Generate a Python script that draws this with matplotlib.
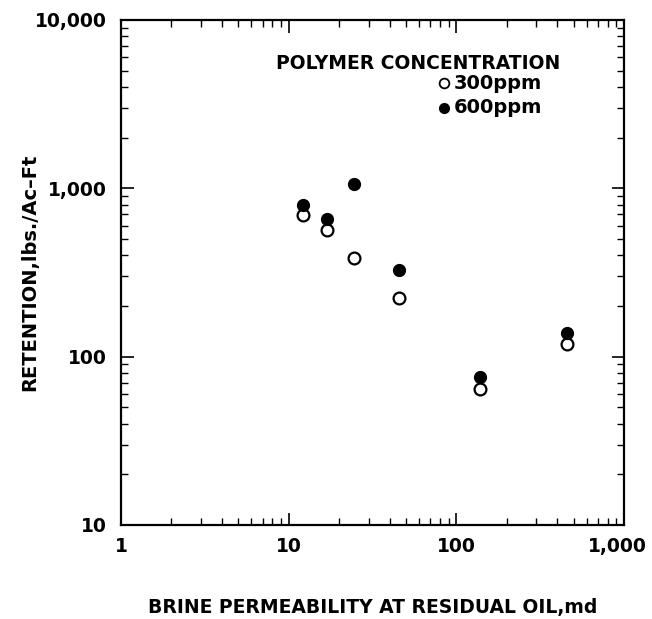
import matplotlib
matplotlib.use("Agg")
import matplotlib.pyplot as plt
from matplotlib.ticker import LogLocator, FixedLocator, FixedFormatter, NullFormatter
from matplotlib.transforms import ScaledTranslation

# Data
permeability = [12.2, 16.9, 24.5, 45.5, 138, 455]
retention_300 = [692, 563, 384, 223, 64, 119]
retention_600 = [793, 657, 1056, 329, 76, 138]

x_ticks = [1, 10, 100, 1000]
x_labels = ["1", "10", "100", "1,000"]
y_ticks = [10, 100, 1000, 10000]
y_labels = ["10", "100", "1,000", "10,000"]

plt.rcParams['font.family'] = ['DejaVu Sans']
plt.rcParams['font.weight'] = 'bold'

fig = plt.figure(figsize=(6.52, 6.19), dpi=100)
ax = fig.add_axes([0.1856, 0.1519, 0.7715, 0.8158])

ax.set_xscale('log')
ax.set_yscale('log')
ax.set_xlim(1, 1000)
ax.set_ylim(10, 10000)

ax.plot(permeability, retention_300, linestyle='none', marker='o', ms=8.5,
        mfc='white', mec='black', mew=1.6)
ax.plot(permeability, retention_600, linestyle='none', marker='o', ms=8.5,
        mfc='black', mec='black', mew=1.0)

ax.xaxis.set_major_locator(FixedLocator(x_ticks))
ax.xaxis.set_major_formatter(FixedFormatter(x_labels))
ax.yaxis.set_major_locator(FixedLocator(y_ticks))
ax.yaxis.set_major_formatter(FixedFormatter(y_labels))
ax.xaxis.set_minor_locator(LogLocator(base=10, subs=range(2, 10)))
ax.yaxis.set_minor_locator(LogLocator(base=10, subs=range(2, 10)))
ax.xaxis.set_minor_formatter(NullFormatter())
ax.yaxis.set_minor_formatter(NullFormatter())

ax.tick_params(which='both', direction='in', top=True, right=True, color='black')
ax.tick_params(which='major', length=9, width=1.2, labelsize=13.5)
ax.tick_params(axis='x', which='major', pad=9)
ax.tick_params(axis='y', which='major', pad=10)
ax.tick_params(which='minor', length=5, width=1.0)
for lab in ax.get_xticklabels() + ax.get_yticklabels():
    lab.set_fontweight('bold')

# keep the last x tick label inside the figure
fig.canvas.draw()
last = ax.xaxis.get_major_ticks()[-1].label1
last.set_transform(last.get_transform() + ScaledTranslation(-7 / 100, 0, fig.dpi_scale_trans))

for sp in ax.spines.values():
    sp.set_linewidth(1.6)

ax.set_xlabel("BRINE PERMEABILITY AT RESIDUAL OIL,md", fontsize=13.5,
              fontweight='bold', labelpad=30)
fig.text(30 / 652, 1 - 272 / 619, "RETENTION,lbs./Ac\u2013Ft", rotation=90,
         ha='center', va='center', fontsize=14, fontweight='bold')

# Legend drawn manually
ax.text(0.590, 0.913, "POLYMER CONCENTRATION", transform=ax.transAxes,
        ha='center', va='center', fontsize=13.5, fontweight='bold')
ax.plot([0.642], [0.875], transform=ax.transAxes, marker='o', ms=7,
        mfc='white', mec='black', mew=1.3, linestyle='none', clip_on=False)
ax.plot([0.642], [0.826], transform=ax.transAxes, marker='o', ms=7,
        mfc='black', mec='black', linestyle='none', clip_on=False)
ax.text(0.662, 0.875, "300ppm", transform=ax.transAxes, ha='left',
        va='center', fontsize=14, fontweight='bold')
ax.text(0.662, 0.826, "600ppm", transform=ax.transAxes, ha='left',
        va='center', fontsize=14, fontweight='bold')

fig.savefig("out.png", dpi=100)
